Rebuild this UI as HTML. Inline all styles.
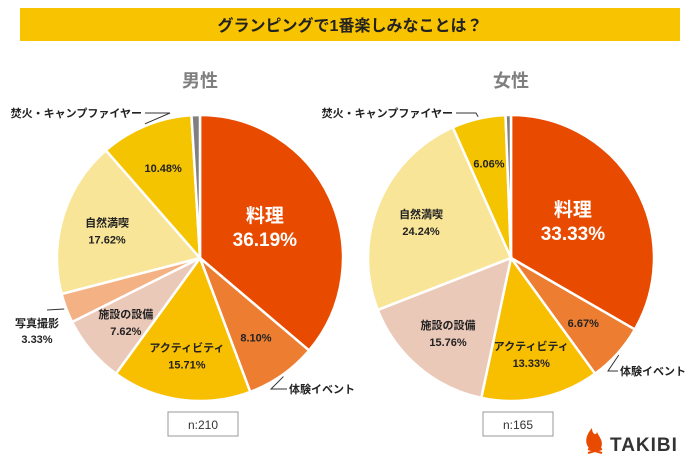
<!DOCTYPE html>
<html><head><meta charset="utf-8">
<style>
body{margin:0;background:#fff;width:700px;height:465px;overflow:hidden;font-family:"Liberation Sans","Noto Sans CJK JP",sans-serif;}
svg text{font-family:"Liberation Sans","Noto Sans CJK JP",sans-serif;}
</style></head>
<body>
<svg id="chart" width="700" height="465" viewBox="0 0 700 465" xmlns="http://www.w3.org/2000/svg">
<rect x="20" y="8" width="660" height="33" fill="#F8C300"/>
<text x="350" y="31" text-anchor="middle" font-size="16" font-weight="bold" fill="#222">グランピングで1番楽しみなことは？</text>
<text x="200" y="87" text-anchor="middle" font-size="18" font-weight="bold" fill="#7f7f7f">男性</text>
<text x="511" y="87" text-anchor="middle" font-size="18" font-weight="bold" fill="#7f7f7f">女性</text>
<g id="male"></g>
<g id="female"></g>
<rect x="168" y="412" width="70" height="24" fill="#fff" stroke="#999"/>
<text x="203" y="429" text-anchor="middle" font-size="12" fill="#333">n:210</text>
<rect x="483" y="412" width="70" height="24" fill="#fff" stroke="#999"/>
<text x="518" y="429" text-anchor="middle" font-size="12" fill="#333">n:165</text>
<g>
<path d="M594 452 C583 446 585 436 592 428 C592 434 596 436 597 432 C599 437 604 441 601 448 C600 451 597 452 594 452Z" fill="#E84A00"/>
<path d="M588 453 L602 449 M588 449 L602 453" stroke="#E84A00" stroke-width="2"/>
<text x="610" y="451" font-size="19" font-weight="bold" fill="#333" letter-spacing="1">TAKIBI</text>
</g>
</svg>
<script>
const categories = ["料理","体験イベント","アクティビティ","施設の設備","写真撮影","自然満喫","焚火・キャンプファイヤー","その他"];
const maleValues = [36.19, 8.10, 15.71, 7.62, 3.33, 17.62, 10.48, 0.95];
const femaleValues = [33.33, 6.67, 13.33, 15.76, 0, 24.24, 6.06, 0.61];
const maleLabels = ["36.19%","8.10%","15.71%","7.62%","3.33%","17.62%","10.48%",""];
const femaleLabels = ["33.33%","6.67%","13.33%","15.76%","","24.24%","6.06%",""];
const colors = ["#E84A00","#ED7D31","#F8BE00","#EBC9B9","#F4B183","#F9E597","#F5C400","#808080"];
const NS = "http://www.w3.org/2000/svg";
function mk(tag, attrs, parent){const e=document.createElementNS(NS,tag);for(const k in attrs)e.setAttribute(k,attrs[k]);parent.appendChild(e);return e;}
function pt(cx,cy,r,a){return [cx+r*Math.sin(a), cy-r*Math.cos(a)];}
function drawPie(gid, cx, cy, R, vals, labels, ext){
  const g=document.getElementById(gid);
  const total=vals.reduce((a,b)=>a+b,0);
  let a0=0;
  vals.forEach((v,i)=>{
    if(v<=0) return;
    const a1=a0+v/total*2*Math.PI;
    const [x0,y0]=pt(cx,cy,R,a0),[x1,y1]=pt(cx,cy,R,a1);
    const large=(a1-a0)>Math.PI?1:0;
    const p=mk("path",{d:`M${cx},${cy} L${x0},${y0} A${R},${R} 0 ${large} 1 ${x1},${y1} Z`,fill:colors[i],stroke:"#fff","stroke-width":2.5},g);
    
    
    const mid=(a0+a1)/2;
    const e = ext[i];
    const outsideAll = e && e.pct;
    if(labels[i] && !outsideAll){
      const rr = i===0?0.5*R:0.68*R;
      const [lx,ly]=pt(cx,cy,rr,mid);
      const big=i===0;
      const showName = !e;
      const t=mk("text",{x:lx,y:ly+(showName?(big?-6:-3):4),"text-anchor":"middle","font-size":big?19:11,"font-weight":"bold",fill:big?"#fff":"#222"},g);
      
      
      if(showName){
        const s1=mk("tspan",{x:lx,dy:0},t);s1.textContent=categories[i];
        const s2=mk("tspan",{x:lx,dy:big?24:17},t);s2.textContent=labels[i];
      } else t.textContent=labels[i];
    }
    if(e){
      const [ex,ey]=pt(cx,cy,R+2,mid);
      const ln=mk("polyline",{points:`${ex},${ey} ${e.lx},${e.ly} ${e.ex},${e.ly}`,fill:"none",stroke:"#333","stroke-width":1},g);
      
      
      const t=mk("text",{x:e.tx,y:e.ty,"text-anchor":e.anchor,"font-size":11,"font-weight":"bold",fill:"#222"},g);
      
      
      const s1=mk("tspan",{x:e.tx,dy:0},t);s1.textContent=categories[i];
      if(e.pct){const s2=mk("tspan",{x:e.tx,dy:16},t);s2.textContent=labels[i];}
    }
    a0=a1;
  });
}
drawPie("male",200,258,143,maleValues,maleLabels,{
  1:{lx:271,ly:389,ex:287,tx:289,ty:393,anchor:"start"},
  4:{lx:47,ly:310,ex:47,tx:37,ty:327,anchor:"middle",pct:true},
  6:{lx:170,ly:113,ex:145,tx:142,ty:117,anchor:"end"}
});
drawPie("female",511,258,143,femaleValues,femaleLabels,{
  1:{lx:608,ly:371,ex:618,tx:620,ty:375,anchor:"start"},
  6:{lx:476,ly:113,ex:456,tx:453,ty:117,anchor:"end"}
});
</script>
</body></html>
